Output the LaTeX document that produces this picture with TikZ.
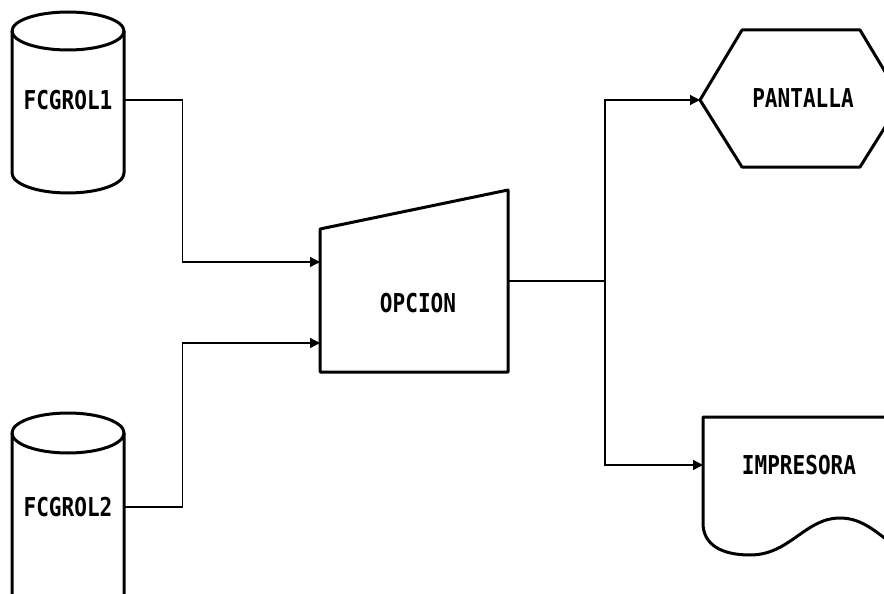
\documentclass[tikz,border=0pt]{standalone}
\usepackage{fontspec}
\newfontfamily\lbl[FakeStretch=0.81]{DejaVu Sans Mono}
\usetikzlibrary{arrows.meta}
\tikzset{
  shp/.style={line width=3pt, line join=round},
  conn/.style={line width=1.3pt},
  arr/.style={conn, -{Triangle[length=10pt,width=10pt]}},
  lab/.style={font=\lbl\bfseries\fontsize{26}{26}\selectfont, inner sep=0pt},
  anchorbox/.style={lab, minimum height=20pt}
}
\begin{document}
\begin{tikzpicture}[x=1pt,y=1pt]
\useasboundingbox (0,0) rectangle (884,-594);
\clip (0,0) rectangle (884,-594);
\fill[white] (0,0) rectangle (884,-594);

% FCGROL1 cylinder
\draw[shp] (12,-31) -- (12,-173) arc[start angle=180,end angle=360,x radius=56,y radius=20]
  -- (124,-31) arc[start angle=0,end angle=180,x radius=56,y radius=19];
\draw[shp] (12,-31) arc[start angle=180,end angle=360,x radius=56,y radius=19];
\node[anchorbox, minimum width=112pt] (c1) at (68,-100) {FCGROL1};

% FCGROL2 cylinder
\draw[shp] (12,-620) -- (12,-433) arc[start angle=180,end angle=0,x radius=56,y radius=20]
  -- (124,-620);
\draw[shp] (12,-433) arc[start angle=180,end angle=360,x radius=56,y radius=20];
\node[anchorbox, minimum width=112pt] (c2) at (68,-507) {FCGROL2};

% OPCION manual input shape
\draw[shp] (320,-229) -- (508,-190) -- (508,-372) -- (320,-372) -- cycle;
\node[lab] (op) at (418,-303) {OPCION};
\coordinate (in1) at (320,-262);
\coordinate (in2) at (320,-343);
\coordinate (out) at (508,-281);

% PANTALLA display shape
\draw[shp] (700,-100) -- (742,-30) -- (860,-30) -- (902,-100) -- (860,-167) -- (742,-167) -- cycle;
\node[lab] (pant) at (803,-98) {PANTALLA};
\coordinate (pin) at (700,-100);

% IMPRESORA document shape
\draw[shp] (900,-417) -- (703,-417) -- (703,-523)
  .. controls (703,-545) and (722,-555) .. (750,-555)
  .. controls (790,-555) and (805,-518) .. (840,-518)
  .. controls (862,-518) and (876,-532) .. (895,-546);
\node[lab] (imp) at (799,-465) {IMPRESORA};
\coordinate (iin) at (703,-465);

% connectors
\draw[arr] (c1.east) -- ++(58,0) |- (in1);
\draw[arr] (c2.east) -- ++(58,0) |- (in2);
\draw[conn] (out) -- ++(97,0) coordinate (j);
\draw[arr] (j) |- (pin);
\draw[arr] (j) |- (iin);
\end{tikzpicture}
\end{document}
